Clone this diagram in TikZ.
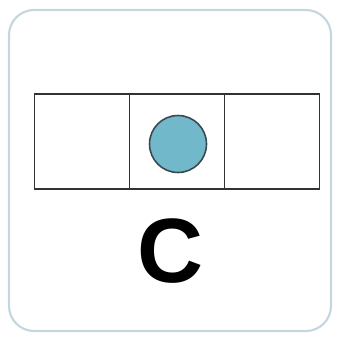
\documentclass[tikz,border=0pt]{standalone}
\usepackage{fontspec}
\setmainfont{Liberation Sans}
\usetikzlibrary{positioning}
\definecolor{framegray}{RGB}{196,214,222}
\definecolor{dotblue}{RGB}{112,184,202}
\definecolor{dotedge}{RGB}{58,72,80}
\tikzset{
  frame/.style={draw=framegray, line width=1.2pt, rounded corners=0.5cm},
  cell/.style={draw=black!80, line width=0.8pt, minimum width=1.9cm, minimum height=1.9cm, inner sep=0pt, outer sep=0pt},
  dot/.style={circle, draw=dotedge, line width=0.9pt, fill=dotblue, minimum size=1.14cm, inner sep=0pt},
  letter/.style={font=\fontsize{52}{52}\selectfont\bfseries, inner sep=0pt}
}

\begin{document}
\begin{tikzpicture}[x=0.02cm, y=-0.02cm]
  \useasboundingbox (0,0) rectangle (338,338);
  \draw[frame] (9,10) rectangle (331,331);
  \node[cell] (mid) at (177,141.5) {};
  \node[cell, left=0pt of mid] (left) {};
  \node[cell, right=0pt of mid] (right) {};
  \node[dot] (ball) at (178,144) {};
  \node[letter] (label) at (170,251) {C};
\end{tikzpicture}
\end{document}
